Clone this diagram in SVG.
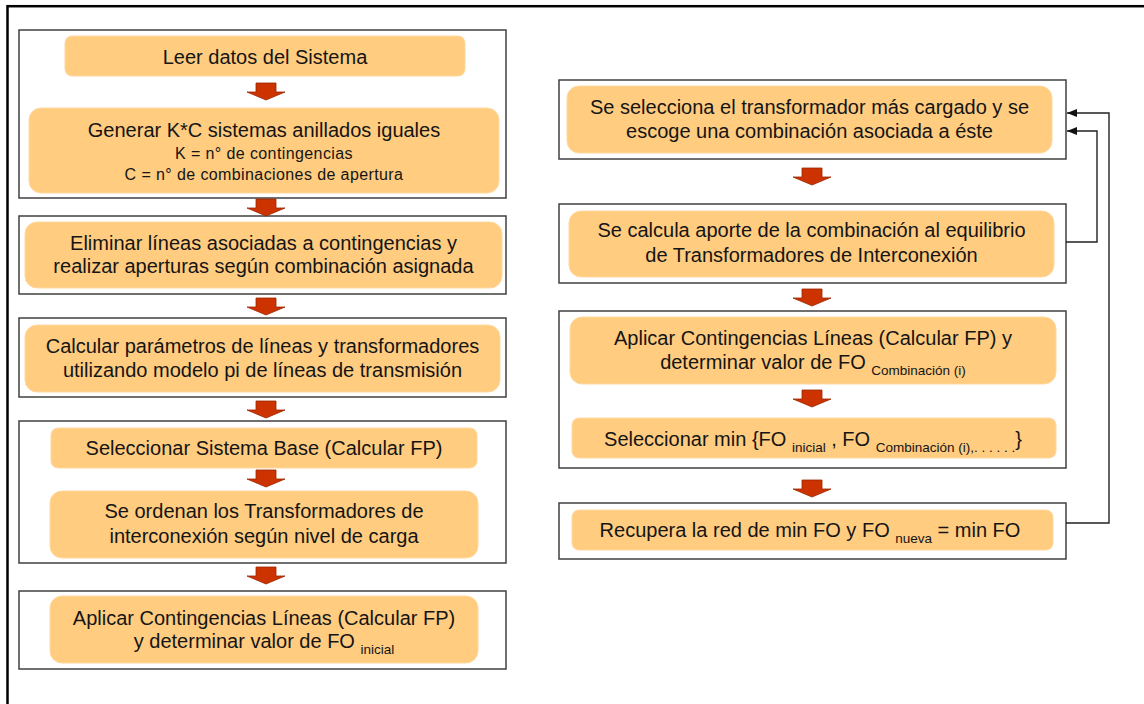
<svg xmlns="http://www.w3.org/2000/svg" width="1144" height="704" viewBox="0 0 1144 704">
<style>
  .frame{fill:none;stroke:#000;stroke-width:2.5}
  .box{fill:#fff;stroke:#404040;stroke-width:1.5}
  .pill{fill:#FFCC80;stroke:#FFD9A0;stroke-width:1}
  .t{font-family:"Liberation Sans",Arial,sans-serif;font-size:20px;fill:#151515;text-anchor:middle}
  .s{font-family:"Liberation Sans",Arial,sans-serif;font-size:16px;letter-spacing:0.4px;fill:#151515;text-anchor:middle}
  .sub{font-size:13.5px}
  .conn{fill:none;stroke:#222;stroke-width:1.4}
  .arr{fill:#CC3300;stroke:#9A2600;stroke-width:0.8}
</style>
<defs>
  <path id="bigArrow" class="arr" d="M-10,0 H10 V9 H19 L0,17 L-19,9 H-10 Z"/>
  <marker id="head" markerUnits="userSpaceOnUse" markerWidth="10" markerHeight="8" refX="10" refY="4" orient="auto">
    <path d="M0,0 L10,4 L0,8 Z" fill="#111"/>
  </marker>
</defs>
<rect width="1144" height="704" fill="#fff"/>
<rect class="frame" x="7.5" y="6.2" width="1160" height="720"/>

<!-- Left column -->
<g id="box1">
  <rect class="box" x="19" y="30" width="487" height="168"/>
  <g id="leer">
    <rect class="pill" x="65" y="36" width="400" height="40" rx="7"/>
    <text class="t" x="265" y="64">Leer datos del Sistema</text>
  </g>
  <g id="generar">
    <rect class="pill" x="29" y="108" width="470" height="85" rx="12"/>
    <text class="t" x="264" y="137">Generar K*C sistemas anillados iguales</text>
    <text class="s" x="264" y="159">K = n° de contingencias</text>
    <text class="s" x="264" y="180">C = n° de combinaciones de apertura</text>
  </g>
</g>

<g id="box2">
  <rect class="box" x="19" y="216" width="487" height="78"/>
  <rect class="pill" x="25" y="222" width="477" height="66" rx="12"/>
  <text class="t" x="263.5" y="250">Eliminar líneas asociadas a contingencias y</text>
  <text class="t" x="263.5" y="273">realizar aperturas según combinación asignada</text>
</g>

<g id="box3">
  <rect class="box" x="19" y="318" width="487" height="79"/>
  <rect class="pill" x="25" y="325" width="475" height="67" rx="12"/>
  <text class="t" x="262.5" y="353">Calcular parámetros de líneas y transformadores</text>
  <text class="t" x="262.5" y="377">utilizando modelo pi de líneas de transmisión</text>
</g>

<g id="box4">
  <rect class="box" x="19" y="421" width="487" height="142"/>
  <g id="seleccionarBase">
    <rect class="pill" x="51" y="428" width="426" height="40" rx="7"/>
    <text class="t" x="264" y="455">Seleccionar Sistema Base (Calcular FP)</text>
  </g>
  <g id="ordenan">
    <rect class="pill" x="50" y="491" width="428" height="67" rx="12"/>
    <text class="t" x="264" y="518">Se ordenan los Transformadores de</text>
    <text class="t" x="264" y="543">interconexión según nivel de carga</text>
  </g>
</g>

<g id="box5">
  <rect class="box" x="19" y="591" width="487" height="78"/>
  <rect class="pill" x="50" y="596" width="428" height="67" rx="12"/>
  <text class="t" x="264" y="625">Aplicar Contingencias Líneas (Calcular FP)</text>
  <text class="t" x="264" y="648">y determinar valor de FO <tspan class="sub" dy="6">inicial</tspan></text>
</g>

<!-- Right column -->
<g id="boxR1">
  <rect class="box" x="559" y="80" width="507" height="79"/>
  <rect class="pill" x="567" y="86" width="485" height="67" rx="12"/>
  <text class="t" x="809.5" y="114">Se selecciona el transformador más cargado y se</text>
  <text class="t" x="809.5" y="138">escoge una combinación asociada a éste</text>
</g>

<g id="boxR2">
  <rect class="box" x="559" y="204" width="507" height="79"/>
  <rect class="pill" x="569" y="211" width="485" height="66" rx="12"/>
  <text class="t" x="811.5" y="237">Se calcula aporte de la combinación al equilibrio</text>
  <text class="t" x="811.5" y="262">de Transformadores de Interconexión</text>
</g>

<g id="boxR3">
  <rect class="box" x="559" y="311" width="507" height="157"/>
  <g id="aplicarR">
    <rect class="pill" x="570" y="317" width="486" height="67" rx="12"/>
    <text class="t" x="813" y="345">Aplicar Contingencias Líneas (Calcular FP) y</text>
    <text class="t" x="813" y="369">determinar valor de FO <tspan class="sub" dy="6">Combinación (i)</tspan></text>
  </g>
  <g id="seleccionarMin">
    <rect class="pill" x="572" y="418" width="484" height="40" rx="7"/>
    <text class="t" x="813" y="446">Seleccionar min {FO <tspan class="sub" dy="6">inicial</tspan><tspan dy="-6"> , FO </tspan><tspan class="sub" dy="6">Combinación (i),. . . . . .</tspan><tspan dy="-6">}</tspan></text>
  </g>
</g>

<g id="boxR4">
  <rect class="box" x="559" y="503" width="507" height="56"/>
  <rect class="pill" x="572" y="510" width="481" height="40" rx="7"/>
  <text class="t" x="810" y="537">Recupera la red de min FO y FO <tspan class="sub" dy="6">nueva</tspan><tspan dy="-6"> = min FO</tspan></text>
</g>

<!-- Connectors -->
<g id="connectors">
  <use href="#bigArrow" x="266" y="83"/>
  <use href="#bigArrow" x="266" y="199"/>
  <use href="#bigArrow" x="266" y="298"/>
  <use href="#bigArrow" x="266" y="401"/>
  <use href="#bigArrow" x="266" y="470"/>
  <use href="#bigArrow" x="266" y="567"/>
  <use href="#bigArrow" x="812" y="168"/>
  <use href="#bigArrow" x="812" y="289"/>
  <use href="#bigArrow" x="812" y="390"/>
  <use href="#bigArrow" x="812" y="480"/>
  <path class="conn" d="M1066,523 H1109 V113 H1067" marker-end="url(#head)"/>
  <path class="conn" d="M1066,242 H1097 V131 H1067" marker-end="url(#head)"/>
</g>
</svg>
